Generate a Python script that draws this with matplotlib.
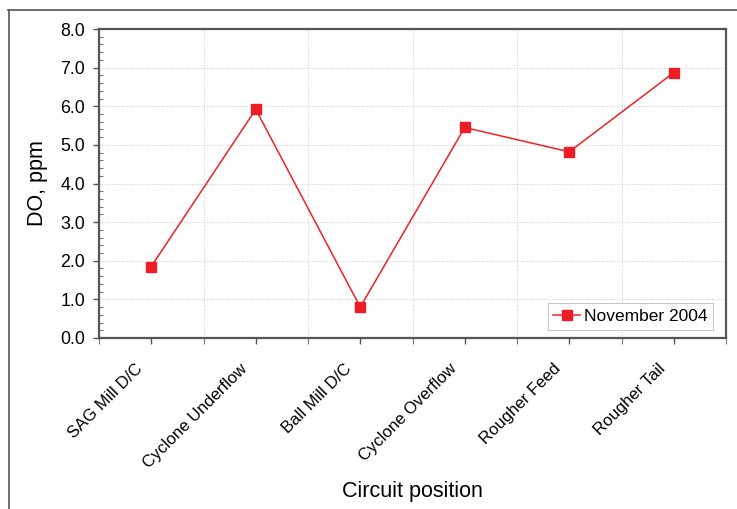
import matplotlib
matplotlib.use("Agg")
import matplotlib.pyplot as plt
from matplotlib.lines import Line2D
from matplotlib.transforms import ScaledTranslation
from matplotlib.ticker import MultipleLocator, FixedLocator, NullFormatter

plt.rcParams['font.family'] = ['Liberation Sans', 'DejaVu Sans']

positions = ["SAG Mill D/C", "Cyclone Underflow", "Ball Mill D/C",
             "Cyclone Overflow", "Rougher Feed", "Rougher Tail"]
do_nov2004 = [1.85, 5.92, 0.80, 5.45, 4.82, 6.87]
series_label = "November 2004"

W, H = 737, 509
fig = plt.figure(figsize=(W / 100, H / 100), dpi=100)
ax = fig.add_axes([99 / W, 1 - 338 / H, (726 - 99) / W, (338 - 29) / H])

x = list(range(len(positions)))
ax.plot(x, do_nov2004, color="#ee2222", lw=1.1, marker="s", ms=7,
        markerfacecolor="#ee1c24", markeredgecolor="#ee1c24", label=series_label)

ax.set_xlim(-0.5, len(positions) - 0.5)
ax.set_ylim(0, 8)
ax.yaxis.set_major_locator(MultipleLocator(1.0))
ax.yaxis.set_minor_locator(MultipleLocator(0.2))
ax.yaxis.set_major_formatter(plt.FuncFormatter(lambda v, p: f"{v:.1f}"))

ax.set_xticks(x)
ax.set_xticklabels(positions, rotation=45, ha="right", rotation_mode="anchor",
                   fontsize=12)
ax.xaxis.set_minor_locator(FixedLocator([i + 0.5 for i in range(-1, len(positions))]))
ax.xaxis.set_minor_formatter(NullFormatter())

ax.tick_params(axis="y", which="major", labelsize=12.8)
ax.tick_params(axis="both", which="major", color="#555555",
               length=4, width=1, direction="out", pad=6)
ax.tick_params(axis="y", which="minor", length=3, width=0.8, direction="in",
               color="#777777")
ax.tick_params(axis="x", which="minor", length=4, width=0.8, direction="out",
               color="#777777")

# nudge rotated category labels down and to the left of their ticks
shift = ScaledTranslation(-16 / 100, -9 / 100, fig.dpi_scale_trans)
for lab in ax.get_xticklabels():
    lab.set_transform(lab.get_transform() + shift)

ax.grid(True, which="major", axis="y", color="#bbbbbb", lw=0.6, ls=(0, (1, 2)))
ax.grid(True, which="minor", axis="x", color="#bbbbbb", lw=0.6, ls=(0, (1, 2)))

for s in ax.spines.values():
    s.set_color("#555555")
    s.set_linewidth(1.6)

ax.set_ylabel("DO, ppm", fontsize=15.5, va="center")
ax.yaxis.set_label_coords(-(99 - 37) / (726 - 99), 0.5)
ax.set_xlabel("Circuit position", fontsize=15.5, va="center")
ax.xaxis.set_label_coords(0.5, -(492 - 338) / (338 - 29))

leg = ax.legend(loc="lower right",
                bbox_to_anchor=((713 - 99) / (726 - 99), (338 - 330) / (338 - 29)),
                borderaxespad=0, fontsize=12.5, frameon=True, fancybox=False,
                handlelength=1.55, borderpad=0.33, handletextpad=0.2)
leg.get_frame().set_edgecolor("#bbbbbb")
leg.get_frame().set_linewidth(0.8)

# outer frame around the chart object
fig.add_artist(Line2D([8 / W, 1], [1 - 10 / H, 1 - 10 / H], transform=fig.transFigure,
                      color="#555555", lw=1.2))
fig.add_artist(Line2D([9 / W, 9 / W], [0, 1 - 10 / H], transform=fig.transFigure,
                      color="#555555", lw=1.2))

fig.savefig("out.png", dpi=100)
